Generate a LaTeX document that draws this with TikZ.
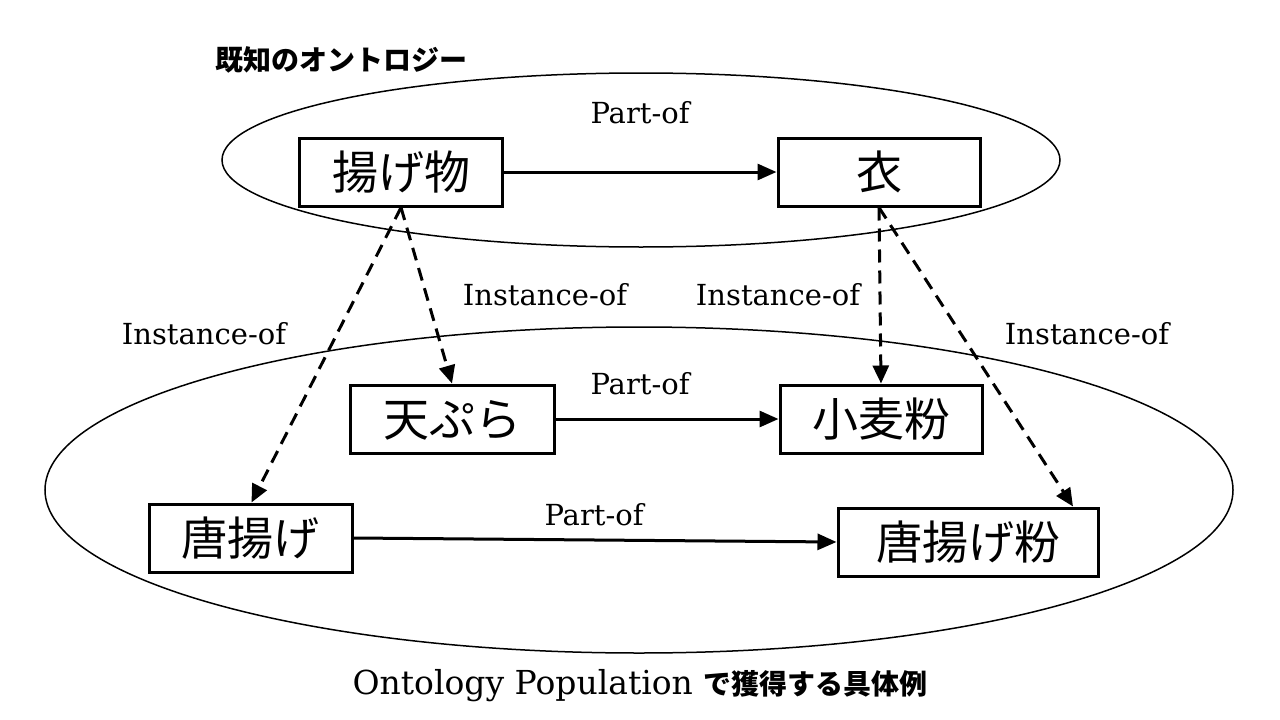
\documentclass[tikz,border=0pt]{standalone}
\usepackage{fontspec}
\setmainfont{DejaVu Serif}
\newfontfamily\jp{Noto Sans CJK JP}
\usetikzlibrary{arrows.meta}
\newcommand{\boxtext}[1]{\raisebox{-0.3em}{#1}}
\tikzset{
  box/.style={draw=black, line width=3pt, inner sep=0pt, minimum height=68pt, font=\jp\fontsize{46}{50}\selectfont, text height=0.83em, text depth=0.07em},
  lab/.style={inner sep=0pt, font=\fontsize{29}{32}\selectfont},
  ell/.style={draw=black, line width=1.5pt},
  rel/.style={line width=3pt, -{Triangle[length=19pt,width=16pt]}},
  inst/.style={line width=3pt, dash pattern=on 13pt off 8pt, -{Triangle[length=18pt,width=16pt]}},
}
\begin{document}
\begin{tikzpicture}[x=1pt,y=-1pt]
\fill[white] (0,0) rectangle (1280,720);
\useasboundingbox (0,0) rectangle (1280,720);
% ellipses
\draw[ell] (641,160) ellipse [x radius=419, y radius=87];
\draw[ell] (639,490) ellipse [x radius=594, y radius=163];
% boxes
\node[box, minimum width=203pt, fill=white] (agemono) at (401,172) {\boxtext{揚げ物}};
\node[box, minimum width=202pt, fill=white] (koromo) at (879,172) {\boxtext{衣}};
\node[box, minimum width=204pt, fill=white] (tempura) at (452,419) {\boxtext{天ぷら}};
\node[box, minimum width=202pt, fill=white] (komugi) at (881,419) {\boxtext{小麦粉}};
\node[box, minimum width=203pt, fill=white] (karaage) at (250.5,538) {\boxtext{唐揚げ}};
\node[box, minimum width=260pt, fill=white] (kkona) at (968,542) {\boxtext{唐揚げ粉}};
% part-of arrows
\draw[rel] (agemono.east) -- (koromo.west);
\draw[rel] (tempura.east) -- (komugi.west);
\draw[rel] (karaage.east) -- (kkona.west);
% instance-of arrows
\draw[inst] (agemono.south) -- (tempura.north);
\draw[inst] (agemono.south) -- ([xshift=1pt]karaage.north);
\draw[inst] (koromo.south) -- (komugi.north);
\draw[inst] (koromo.south) -- ([xshift=105pt]kkona.north);
% labels
\node[lab] (l1) at (640,113) {Part-of};
\node[lab] (l2) at (640,384) {Part-of};
\node[lab] (l3) at (594,515) {Part-of};
\node[lab] (l4) at (545,295) {Instance-of};
\node[lab] (l5) at (778,295) {Instance-of};
\node[lab] (l6) at (204,334) {Instance-of};
\node[lab] (l7) at (1087,334) {Instance-of};
% titles
\node[inner sep=0pt, anchor=west, font=\jp\bfseries\fontsize{28}{30}\selectfont] (title) at (215,60) {既知のオントロジー};
\node[inner sep=0pt, font=\fontsize{33}{36}\selectfont] (caption) at (640,686) {Ontology Population {\jp\bfseries\fontsize{28}{30}\selectfont で獲得する具体例}};
\end{tikzpicture}
\end{document}
